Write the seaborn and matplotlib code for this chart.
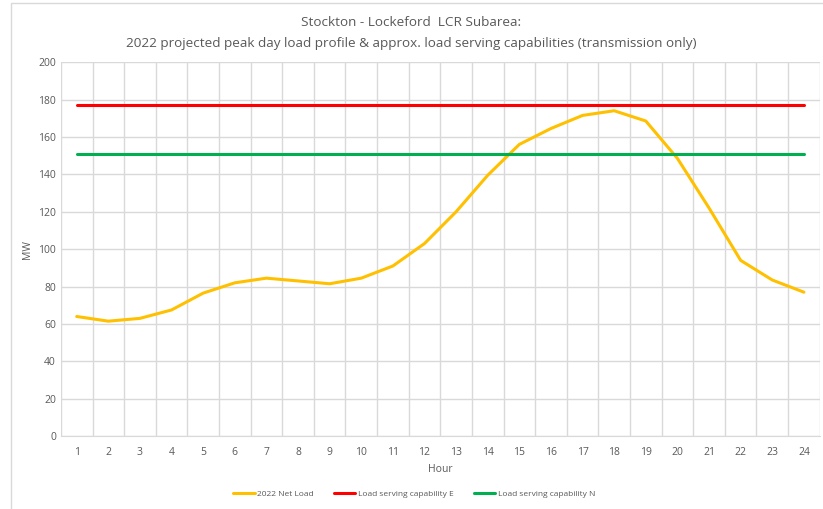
import numpy as np
import pandas as pd
import seaborn as sns
import matplotlib.pyplot as plt
from matplotlib.patches import Rectangle

# Data
hours = list(range(1, 25))
net_load = [64, 61.5, 63, 67.5, 76.5, 82, 84.5, 83, 81.5, 84.5, 91, 103,
            120, 139.5, 156, 164.5, 171.5, 174, 168.5, 148.5, 122, 94, 83.5, 77]
cap_e = [177] * 24
cap_n = [151] * 24

series = ['2022 Net Load', 'Load serving capability E', 'Load serving capability N']
colors = ['#FFC000', '#FF0000', '#00B050']

df = pd.DataFrame({'Hour': hours,
                   series[0]: net_load,
                   series[1]: cap_e,
                   series[2]: cap_n})
long = df.melt(id_vars='Hour', var_name='Series', value_name='MW')

sns.set_style('white')
plt.rcParams['font.family'] = ['Open Sans', 'DejaVu Sans']

fig = plt.figure(figsize=(8.23, 5.09), dpi=100)
ax = fig.add_axes([0.074, 0.143, 0.922, 0.735])

sns.lineplot(data=long, x='Hour', y='MW', hue='Series', hue_order=series,
             palette=colors, linewidth=2.2, ax=ax, legend=False)

ax.set_xlim(0.5, 24.5)
ax.set_ylim(0, 200)
ax.set_xticks(hours)
ax.set_xticks(np.arange(0.5, 25, 1), minor=True)
ax.set_yticks(range(0, 201, 20))
ax.grid(False)
ax.grid(True, which='minor', axis='x', color='#D9D9D9', linewidth=1)
ax.grid(True, which='major', axis='y', color='#D9D9D9', linewidth=1)
ax.set_axisbelow(True)
ax.tick_params(axis='both', which='both', length=0, labelsize=7.5, colors='#595959')
ax.tick_params(axis='x', pad=8)
for s in ax.spines.values():
    s.set_visible(False)
ax.spines['bottom'].set_visible(True)
ax.spines['bottom'].set_color('#D9D9D9')

ax.set_xlabel('Hour', fontsize=7.5, color='#595959')
ax.set_ylabel('MW', fontsize=7.5, color='#595959')

fig.suptitle('Stockton - Lockeford  LCR Subarea:\n2022 projected peak day load profile & approx. load serving capabilities (transmission only)',
             y=0.968, fontsize=9.7, color='#595959', linespacing=1.8)

handles = [plt.Line2D([], [], color=c, linewidth=2.2) for c in colors]
fig.legend(handles, series, loc='center', bbox_to_anchor=(0.503, 0.03), ncol=3,
           frameon=False, fontsize=6, labelcolor='#595959',
           handlelength=2.6, handletextpad=0.3, columnspacing=2.4)

fig.add_artist(Rectangle((0.013, -0.01), 1.0, 1.004, transform=fig.transFigure,
                         fill=False, edgecolor='#D9D9D9', linewidth=1))

fig.savefig('out.png', dpi=100)
